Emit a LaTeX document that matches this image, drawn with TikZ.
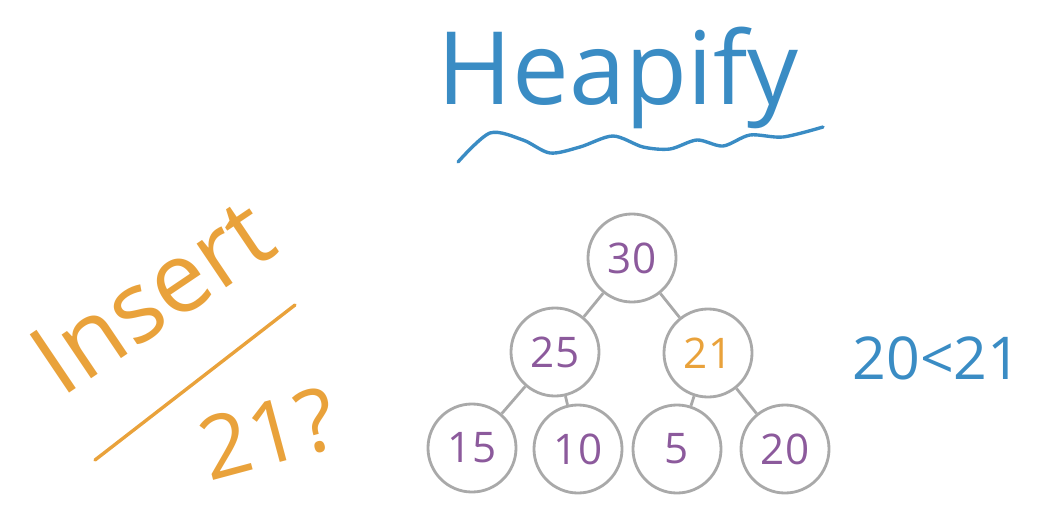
\documentclass[tikz,border=0pt]{standalone}
\usepackage{fontspec}
\setmainfont{Open Sans}
\usepackage{xcolor}
\usetikzlibrary{positioning}
\definecolor{heapgray}{HTML}{A9A9A9}
\definecolor{heappurple}{HTML}{8C5A9C}
\definecolor{heaporange}{HTML}{E9A23B}
\definecolor{heapblue}{HTML}{3A8CC4}
\tikzset{
  heapnode/.style = {
    circle, draw=heapgray, line width=2pt, fill=white,
    minimum size=2.2cm, inner sep=0pt,
    text=heappurple, font=\fontsize{30}{34}\selectfont
  },
  edge/.style = {heapgray, line width=2pt},
  ink/.style  = {line width=2.4pt, line cap=round}
}

\begin{document}
\begin{tikzpicture}[x=0.025cm, y=-0.025cm]
\useasboundingbox (0,0) rectangle (1040,513);

%% title
\node[anchor=base, text=heapblue, font=\fontsize{72}{80}\selectfont]
      (title) at (618,104) {Heapify};
\draw[ink, heapblue] plot[smooth] coordinates {
  (458,162) (490,133) (523,140) (550,153) (580,147) (613,136)
  (643,147) (670,149) (697,140) (723,146) (750,135) (783,137) (823,127)};

%% question on the left
\node[text=heaporange, rotate=34, font=\fontsize{70}{80}\selectfont]
      (insert) at (152,296) {Insert};
\coordinate (qa) at (95,460);
\coordinate (qb) at (295,305);
\draw[ink, heaporange] (qa) -- (qb);
\node[text=heaporange, rotate=15, font=\fontsize{62}{70}\selectfont]
      (query) at (268,434) {21?};

%% heap
\node[heapnode] (n30) at (632,258) {30};
\node[heapnode] (n25) at (555,352) {25};
\node[heapnode, text=heaporange] (n21) at (708,353) {21};
\node[heapnode] (n15) at (472,448) {15};
\node[heapnode] (n10) at (578,449) {10};
\node[heapnode] (n5)  at (677,449) {5};
\node[heapnode] (n20) at (785,449) {20};

\foreach \x/\y in {n30/n25, n30/n21, n25/n15, n25/n10, n21/n5, n21/n20}
  \draw[edge] (\x) -- (\y);

%% comparison
\node[text=heapblue, font=\fontsize{42}{48}\selectfont]
      (cmp) at (937,358) {20<21};

\end{tikzpicture}
\end{document}
